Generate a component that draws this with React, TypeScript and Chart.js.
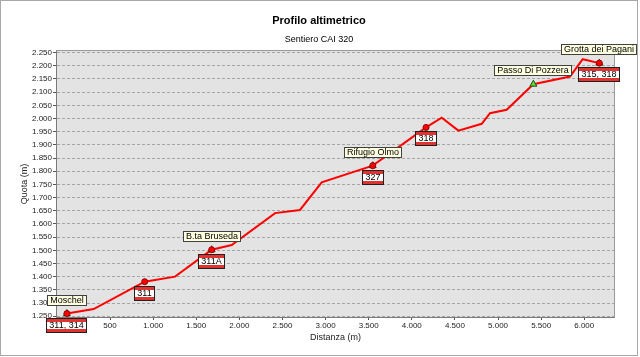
import React, { useEffect, useRef } from 'react';
import { Chart, registerables } from 'chart.js';

Chart.register(...registerables);

// Profile (distance in m, elevation in m)
const distances = [0, 310, 902, 1254, 1679, 1911, 2414, 2703, 2955, 3547, 4165, 4347, 4540, 4811, 4907, 5100, 5410, 5835, 5982, 6175];
const elevations = [1260, 1277, 1381, 1400, 1502, 1520, 1641, 1653, 1758, 1821, 1966, 2003, 1954, 1980, 2020, 2033, 2130, 2159, 2225, 2210];

// Trail junctions (red dots with CAI trail numbers)
const junctionDist = [0, 902, 1679, 3547, 4165, 6175];
const junctionElev = [1260, 1381, 1502, 1821, 1966, 2210];
const junctionLabels = ['311, 314', '311', '311A', '327', '318', '315, 318'];

// Named places (green triangles)
const placeDist = [0, 1679, 3547, 5410, 6175];
const placeElev = [1260, 1502, 1821, 2130, 2210];
const placeNames = ['Moschel', 'B.ta Bruseda', 'Rifugio Olmo', 'Passo Di Pozzera', 'Grotta dei Pagani'];

const xTicks = [0, 500, 1000, 1500, 2000, 2500, 3000, 3500, 4000, 4500, 5000, 5500, 6000];
const yTicks = [1250, 1300, 1350, 1400, 1450, 1500, 1550, 1600, 1650, 1700, 1750, 1800, 1850, 1900, 1950, 2000, 2050, 2100, 2150, 2200, 2250];

const chartTitle = 'Profilo altimetrico';
const chartSubtitle = 'Sentiero CAI 320';
const xTitle = 'Distanza (m)';
const yTitle = 'Quota (m)';

const FONT = '"Liberation Sans", Arial, sans-serif';

const fmt = (v: number) => String(v).replace(/\B(?=(\d{3})+(?!\d))/g, '.');

const decor = {
  id: 'decor',
  beforeDraw(chart: any) {
    const { ctx, chartArea: a, width, height } = chart;
    ctx.save();
    ctx.fillStyle = '#ffffff';
    ctx.fillRect(0, 0, width, height);
    ctx.strokeStyle = '#a8a8a8';
    ctx.lineWidth = 1;
    ctx.strokeRect(0.5, 0.5, 637, 355);
    ctx.fillStyle = '#e3e3e3';
    ctx.fillRect(a.left, a.top, a.right - a.left, a.bottom - a.top);
    ctx.fillStyle = '#000';
    ctx.textAlign = 'center';
    ctx.textBaseline = 'middle';
    ctx.font = 'bold 11px ' + FONT;
    ctx.fillText(chartTitle, 319, 21);
    ctx.font = '9px ' + FONT;
    ctx.fillText(chartSubtitle, 319, 39.5);
    ctx.restore();
  },
  afterDraw(chart: any) {
    const { ctx, chartArea: a, scales } = chart;
    ctx.save();
    // plot frame
    ctx.lineWidth = 1;
    ctx.strokeStyle = '#9a9a9a';
    ctx.strokeRect(a.left - 0.5, a.top - 0.5, a.right - a.left + 1, a.bottom - a.top + 1);
    ctx.strokeStyle = '#7a7a7a';
    ctx.beginPath();
    ctx.moveTo(a.left - 0.5, a.top);
    ctx.lineTo(a.left - 0.5, a.bottom + 0.5);
    ctx.lineTo(a.right + 0.5, a.bottom + 0.5);
    ctx.stroke();

    ctx.font = '9px ' + FONT;
    ctx.textAlign = 'center';
    ctx.textBaseline = 'middle';

    // place name boxes
    placeNames.forEach((name, i) => {
      const px = scales.x.getPixelForValue(placeDist[i]);
      const py = scales.y.getPixelForValue(placeElev[i]);
      const w = Math.round(ctx.measureText(name).width + 6);
      const h = 11;
      const L = Math.round(px - w / 2);
      const T = Math.round(py - 8 - h);
      ctx.fillStyle = '#ffffe1';
      ctx.fillRect(L, T, w, h);
      ctx.strokeStyle = '#404040';
      ctx.strokeRect(L + 0.5, T + 0.5, w - 1, h - 1);
      ctx.fillStyle = '#000';
      ctx.fillText(name, L + w / 2, T + h / 2 + 0.5);
    });

    // trail number boxes (red-white-red CAI style)
    junctionLabels.forEach((t, i) => {
      const px = scales.x.getPixelForValue(junctionDist[i]);
      const py = scales.y.getPixelForValue(junctionElev[i]);
      const w = Math.round(ctx.measureText(t).width + 7);
      const h = 15;
      const L = Math.round(px - w / 2);
      const T = Math.round(py + 4);
      ctx.fillStyle = '#ffffff';
      ctx.fillRect(L, T, w, h);
      ctx.fillStyle = '#e23333';
      ctx.fillRect(L, T, w, 4);
      ctx.fillRect(L, T + h - 4, w, 4);
      ctx.strokeStyle = '#202020';
      ctx.strokeRect(L + 0.5, T + 0.5, w - 1, h - 1);
      ctx.fillStyle = '#000';
      ctx.fillText(t, L + w / 2, T + h / 2 + 0.5);
    });
    ctx.restore();
  },
};

export default function App() {
  const ref = useRef<HTMLCanvasElement | null>(null);
  useEffect(() => {
    document.body.style.margin = '0';
    const canvas = ref.current;
    if (!canvas) return;
    const chart = new Chart(canvas, {
      type: 'scatter',
      data: {
        datasets: [
          {
            label: 'junctions',
            order: 0,
            data: junctionDist.map((d, i) => ({ x: d, y: junctionElev[i] })),
            pointStyle: 'circle',
            pointRadius: 3,
            backgroundColor: '#ff0000',
            borderColor: '#900000',
            borderWidth: 1,
            showLine: false,
          },
          {
            label: 'places',
            order: 1,
            data: placeDist.map((d, i) => ({ x: d, y: placeElev[i] })),
            pointStyle: 'triangle',
            pointRadius: 4,
            backgroundColor: '#55dd22',
            borderColor: '#1f4f1f',
            borderWidth: 1,
            showLine: false,
          },
          {
            label: 'profilo',
            order: 2,
            data: distances.map((d, i) => ({ x: d, y: elevations[i] })),
            showLine: true,
            borderColor: '#ff0000',
            borderWidth: 2,
            pointRadius: 0,
            tension: 0,
            fill: false,
          },
        ],
      },
      options: {
        responsive: false,
        animation: false,
        devicePixelRatio: 1,
        layout: { padding: { left: 0, right: 26, top: 51, bottom: 0 } },
        plugins: {
          legend: { display: false },
          title: { display: false },
          tooltip: { enabled: false },
        },
        scales: {
          x: {
            type: 'linear',
            min: -115,
            max: 6345,
            afterBuildTicks: (s: any) => { s.ticks = xTicks.map((v) => ({ value: v })); },
            afterFit: (s: any) => { s.height = 40; },
            grid: { drawOnChartArea: false, drawTicks: true, tickLength: 3, tickColor: '#555' },
            border: { display: false },
            ticks: {
              padding: 1,
              color: '#222',
              font: { family: FONT, size: 8 },
              maxRotation: 0,
              autoSkip: false,
              callback: (v: any) => fmt(Number(v)),
            },
            title: {
              display: true,
              text: xTitle,
              color: '#222',
              font: { family: FONT, size: 9 },
              padding: { top: 0, bottom: 14 },
            },
          },
          y: {
            type: 'linear',
            min: 1247,
            max: 2256,
            afterBuildTicks: (s: any) => { s.ticks = yTicks.map((v) => ({ value: v })); },
            afterFit: (s: any) => { s.width = 57; },
            grid: { color: '#a5a5a5', tickLength: 4, tickColor: '#555', tickBorderDash: [] },
            border: { display: false, dash: [3, 2] },
            ticks: {
              padding: 1,
              color: '#222',
              font: { family: FONT, size: 8 },
              autoSkip: false,
              callback: (v: any) => fmt(Number(v)),
            },
            title: {
              display: true,
              text: yTitle,
              color: '#222',
              font: { family: FONT, size: 9 },
              padding: { top: 19, bottom: 0 },
            },
          },
        },
      },
      plugins: [decor],
    });
    return () => chart.destroy();
  }, []);
  return <canvas ref={ref} width={640} height={357} style={{ display: 'block' }} />;
}
